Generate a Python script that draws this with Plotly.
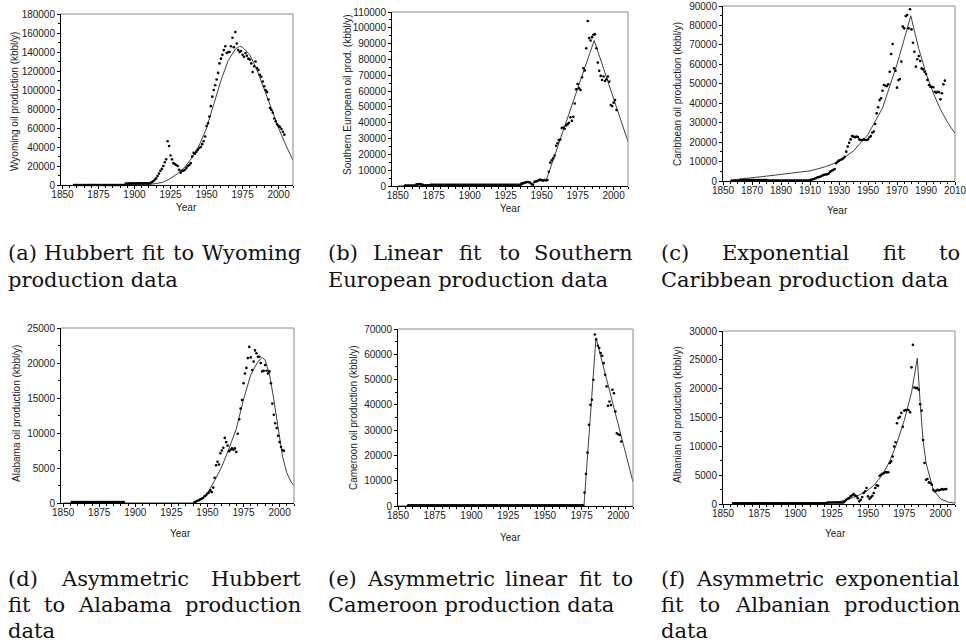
import plotly.graph_objects as go

W, H = 966, 643

# ---------------- data (kbbl/y) ----------------
# (a) Wyoming
wy_years = list(range(1858, 2005))
wy_vals = (
    [0, 0, 0, 0, 0, 0, 0, 0, 0, 0, 0, 0, 0, 0, 0, 0, 0, 0, 0, 0, 0, 0, 0, 0, 0, 0, 0, 0, 0, 0, 0, 0, 0, 0, 0, 0] +
    [1500, 1600, 1500, 1700, 1600, 1800, 1700, 1600, 1800, 1700, 1900, 1800, 1700, 1800, 1900, 1800, 1900] +
    [2000, 3000, 4000, 5500, 7000, 9500, 12000, 15000, 17000, 20000] +
    [24000, 27000, 46000, 41000, 31000, 27000, 23000, 22000, 21000, 20000] +
    [16000, 13000, 15000, 15000, 16000, 18000, 20000, 21000, 23000, 30000] +
    [34000, 33000, 35000, 37000, 39000, 40000, 43000, 46000, 51000, 62000] +
    [65000, 72000, 83000, 93000, 100000, 105000, 111000, 118000, 128000, 133000] +
    [137000, 142000, 146000, 139000, 140000, 140000, 146000, 155000, 145000, 161000] +
    [149000, 142000, 140000, 141000, 137000, 135000, 139000, 136000, 133000, 132000] +
    [128000, 119000, 125000, 130000, 123000, 121000, 116000, 114000, 109000, 104000] +
    [100000, 98000, 90000, 81000, 79000, 76000, 70000, 67000, 64000, 62000] +
    [61000, 59000, 56000, 53000])
wy_fit_years = [1858, 1900, 1910, 1915, 1920, 1925, 1930, 1935, 1940, 1945, 1950, 1955, 1960,
                1965, 1970, 1973, 1975, 1980, 1985, 1990, 1995, 2000, 2005, 2010]
wy_fit_vals = [0, 0, 500, 1500, 3000, 7000, 12000, 19000, 29000, 42000, 60000, 85000, 110000,
               131000, 143000, 146000, 145000, 137000, 121000, 101000, 80000, 60000, 42000, 26000]

# (b) Southern Europe
se_years = list(range(1855, 2003))
se_vals = ([300, 300, 300, 300, 300, 300, 300, 300] +
    [1000, 1100, 1200, 1000, 900] +
    [500, 500, 500, 500, 500] +
    [800, 800, 800, 800, 800, 800, 800, 800, 800, 800, 800, 800, 800, 800, 800, 800, 800, 800, 800, 800, 800,
     800, 800, 800, 800, 800, 800, 800, 800, 800, 800, 800, 800, 800, 800, 800, 800, 800, 800, 800, 800, 800,
     800, 800, 800, 800, 800, 800, 800, 800, 800, 800, 800, 800, 800, 800, 800, 800, 800, 800, 800, 800, 800] +
    [1500, 1800, 2000, 2300, 2500, 2400, 2200, 1200, 800, 2600] +
    [2900, 3200, 3600, 4000, 3600, 3400, 3800, 3500, 3800, 9000] +
    [14800, 16300, 17500, 19200, 25400, 27000, 29000, 29400, 36600, 37000] +
    [36200, 38300, 39100, 40000, 43400, 41200, 43800, 52200, 61100, 64500] +
    [61800, 60700, 68700, 74400, 73000, 87100, 104300, 93500, 92000, 94100] +
    [95600, 96000, 87100, 78000, 72800, 69600, 67000, 69200, 66400, 67500] +
    [69200, 66000, 51200, 50500, 52700, 54400, 48000])
se_fit_years = [1850, 1936, 1938, 1941, 1943, 1945, 1948, 1950, 1953, 1986.5, 2010]
se_fit_vals = [0, 300, 2000, 2400, 700, 2600, 3600, 3800, 3300, 92000, 28000]

# (c) Caribbean
ca_years = list(range(1856, 2004))
ca_vals = ([100, 100, 100, 100, 100, 100] +
    [500, 500, 500, 500, 500, 500, 500, 500, 500, 500, 500, 500, 500, 500, 500, 500, 500, 500, 500] +
    [200, 200, 200, 200, 200, 200, 200, 200, 200, 200, 200, 200, 200, 200, 200, 200, 200, 200, 200, 200,
     200, 200, 200, 200, 200, 200, 200, 200, 200] +
    [500, 700, 900, 1100, 1400, 1800, 2000, 2200, 2600, 3000] +
    [3200, 3400, 3500, 3900, 4800, 5300, 5600, 6200, 9100, 9900] +
    [10500, 10800, 11200, 11700, 12500, 15100, 17700, 19700, 21400, 23100] +
    [22800, 22500, 22800, 22600, 21400, 21100, 21100, 21400, 21100, 21100] +
    [21400, 22500, 23100, 24900, 25400, 29300, 34800, 37900, 41600, 42500] +
    [46400, 49400, 49000, 48800, 49700, 56200, 65300, 70400, 57900, 56700] +
    [48000, 51900, 52400, 61400, 79400, 78500, 84800, 85400, 78500, 88300] +
    [78000, 71100, 66500, 58800, 62600, 64300, 61700, 57900, 57400, 56200] +
    [55000, 52000, 49400, 48500, 48500, 48200, 45900, 45400, 45900, 45600] +
    [42000, 45100, 49700, 51600])
ca_fit_years = [1855, 1860, 1870, 1880, 1890, 1900, 1910, 1920, 1930, 1940, 1950, 1960, 1970, 1975,
                1979.5, 1985, 1990, 1995, 2000, 2005, 2010]
ca_fit_vals = [400, 900, 1700, 2500, 3400, 4300, 5200, 7200, 10000, 15500, 24000, 37500, 60000, 73000,
               85000, 68000, 55400, 45200, 36800, 30000, 24500]

# (d) Alabama
al_years = list(range(1856, 1893)) + list(range(1941, 2004))
al_vals = ([150, 150, 150, 150, 150, 150, 150, 150, 150, 150, 150, 150, 150, 150, 150, 150, 150, 150, 150,
            150, 150, 150, 150, 150, 150, 150, 150, 150, 150, 150, 150, 150, 150, 150, 150, 150, 150] +
    [100, 200, 330, 380, 530, 620, 720, 960, 1100, 1340] +
    [1500, 1800, 1580, 2200, 3600, 5400, 5900, 5500, 7100, 7500] +
    [7900, 9300, 8700, 8200, 7400, 7600, 7800, 7600, 7800, 7300] +
    [9900, 11950, 13500, 14700, 17100, 18500, 19300, 20700, 22300, 20800] +
    [19000, 20200, 21800, 21400, 20900, 20900, 20000, 18800, 18900, 19700] +
    [18900, 18500, 18800, 17100, 14200, 12600, 11400, 10700, 9600, 8700] +
    [8000, 7550, 7450])
al_fit_years = [1850, 1940, 1945, 1950, 1955, 1960, 1965, 1970, 1975, 1980, 1985, 1988, 1990, 1993,
                1996, 1999, 2002, 2005, 2008, 2010]
al_fit_vals = [0, 0, 400, 1400, 3200, 5200, 7800, 10600, 14800, 18300, 20200, 20800, 20400, 18400,
               14800, 10400, 6700, 4300, 3000, 2500]

# (e) Cameroon
cm_years = list(range(1857, 2003))
cm_vals = (
    [300, 300, 300, 300, 300, 300, 300, 300, 300, 300, 300, 300, 300, 300, 300, 300, 300, 300, 300, 300,
     300, 300, 300, 300, 300, 300, 300, 300, 300, 300, 300, 300, 300, 300, 300, 300, 300, 300, 300, 300,
     300, 300, 300, 300, 300, 300, 300, 300, 300, 300, 300, 300, 300, 300, 300, 300, 300, 300, 300, 300,
     300, 300, 300, 300, 300, 300, 300, 300, 300, 300, 300, 300, 300, 300, 300, 300, 300, 300, 300, 300,
     300, 300, 300, 300, 300, 300, 300, 300, 300, 300, 300, 300, 300, 300, 300, 300, 300, 300, 300, 300,
     300, 300, 300, 300, 300, 300, 300, 300, 300, 300, 300, 300, 300, 300, 300, 300, 300, 300, 300, 300] +
    [5300, 12700, 21100, 32100, 40000, 42000, 49900, 67800, 65800, 63400] +
    [62500, 60500, 59400, 56500, 51900, 47300, 39600, 41300, 39900, 46000] +
    [44600, 37400, 28800, 28400, 28100, 25500])
cm_fit_years = [1850, 1976.6, 1984.8, 2010]
cm_fit_vals = [0, 0, 66500, 9500]

# (f) Albania
ab_years = list(range(1857, 2005))
ab_vals = ([100, 100, 100, 100, 100, 100, 100, 100, 100, 100, 100, 100, 100, 100, 100, 100, 100, 100, 100,
            100, 100, 100, 100, 100, 100, 100, 100, 100, 100, 100, 100, 100, 100, 100, 100, 100, 100, 100,
            100, 100, 100, 100, 100, 100, 100, 100, 100, 100, 100, 100, 100, 100, 100, 100, 100, 100, 100,
            100, 100, 100, 100, 100, 100, 100, 100] +
    [250, 250, 250, 250, 250, 250, 250, 250, 250, 250, 250, 250] +
    [460, 750, 900, 1040, 1330, 1500, 1730, 1500, 1330, 1000] +
    [460, 750, 1210, 1900, 2190, 2770, 1330, 920, 1150, 1440] +
    [1900, 2770, 3230, 3170, 4900, 5080, 5250, 5370, 5540, 5480] +
    [5500, 7100, 7390, 8250, 9980, 10700, 14000, 14900, 15100, 15800] +
    [13400, 16200, 16300, 16300, 16300, 15900, 23700, 27600, 20200, 20100] +
    [20100, 19800, 17300, 16200, 11100, 7100, 4200, 4330, 3750, 3640] +
    [3350, 2480, 2190, 2310, 2480, 2370, 2480, 2600, 2500, 2550] +
    [2600])
ab_fit_years = [1857, 1920, 1930, 1935, 1940, 1945, 1950, 1955, 1960, 1965, 1970, 1975, 1980, 1984,
                1986, 1988, 1990, 1995, 2000, 2005, 2010]
ab_fit_vals = [0, 100, 400, 700, 1150, 1700, 2400, 3500, 5100, 7400, 10600, 14500, 19300, 25300,
               17500, 11000, 7100, 2500, 900, 350, 150]

y_titles = ["Wyoming oil production (kbbl/y)", "Southern European oil prod. (kbbl/y)",
            "Caribbean oil production (kbbl/y)", "Alabama oil production (kbbl/y)",
            "Cameroon oil production (kbbl/y)", "Albanian oil production (kbbl/y)"]
x_title = "Year"

captions = [
    ["(a) Hubbert fit to Wyoming", "production data"],
    ["(b) Linear fit to Southern", "European production data"],
    ["(c) Exponential fit to", "Caribbean production data"],
    ["(d) Asymmetric Hubbert", "fit to Alabama production", "data"],
    ["(e) Asymmetric linear fit to", "Cameroon production data"],
    ["(f) Asymmetric exponential", "fit to Albanian production", "data"],
]

series = [
    (wy_years, wy_vals, wy_fit_years, wy_fit_vals),
    (se_years, se_vals, se_fit_years, se_fit_vals),
    (ca_years, ca_vals, ca_fit_years, ca_fit_vals),
    (al_years, al_vals, al_fit_years, al_fit_vals),
    (cm_years, cm_vals, cm_fit_years, cm_fit_vals),
    (ab_years, ab_vals, ab_fit_years, ab_fit_vals),
]

# ---------------- layout (pixels) ----------------
panels = [
    dict(box=(61, 293, 14, 185), xr=[1849, 2010], xdt=25, ymax=180000, ydt=20000,
         ytxy=(15, 102), yearxy=(186, 207)),
    dict(box=(392, 628, 12, 186), xr=[1846, 2010], xdt=25, ymax=110000, ydt=10000,
         ytxy=(348, 95), yearxy=(510, 209)),
    dict(box=(723, 955, 6, 181), xr=[1850, 2010], xdt=20, ymax=90000, ydt=10000,
         ytxy=(677, 94), yearxy=(837, 210)),
    dict(box=(61, 294, 328, 503), xr=[1848.5, 2010], xdt=25, ymax=25000, ydt=5000,
         ytxy=(16, 414), yearxy=(180, 533)),
    dict(box=(398, 633, 329, 506), xr=[1850, 2010], xdt=25, ymax=70000, ydt=10000,
         ytxy=(353, 418), yearxy=(510, 537)),
    dict(box=(723, 955, 331, 504), xr=[1850, 2010], xdt=25, ymax=30000, ydt=5000,
         ytxy=(678, 415), yearxy=(835, 533)),
]

cap_cols = [(7, 302), (327, 634), (660, 961)]
cap_base_top = [260, 287]
cap_base_bot = [586, 612, 638]

TICKFONT = dict(family="Liberation Sans, Arial, sans-serif", size=10, color="#1a1a1a")
CAPFONT_SIZE = 21
CAPFONT = dict(family="DejaVu Serif, serif", size=CAPFONT_SIZE, color="#111111")

fig = go.Figure()
layout = dict(width=W, height=H, margin=dict(l=0, r=0, t=0, b=0, pad=0, autoexpand=False),
              autosize=False, paper_bgcolor="white", plot_bgcolor="white", showlegend=False)
shapes = []
annotations = []


def px2x(px):
    return px / W


def px2y(py):
    return 1 - py / H


for i, (p, (yrs, vals, fyrs, fvals)) in enumerate(zip(panels, series)):
    s = "" if i == 0 else str(i + 1)
    x0, x1, yt, yb = p["box"]
    layout["xaxis" + s] = dict(
        domain=[px2x(x0), px2x(x1)], range=p["xr"], anchor="y" + s, automargin=False,
        tick0=1850, dtick=p["xdt"], ticks="outside", ticklen=3, tickcolor="black",
        ticklabelstandoff=-3, ticklabeloverflow="allow",
        showline=True, linecolor="black", linewidth=1, showgrid=False, zeroline=False,
        tickfont=TICKFONT, tickformat="d",
        minor=dict(ticks="outside", ticklen=2, dtick=5, tick0=1850, tickcolor="black", showgrid=False))
    layout["yaxis" + s] = dict(
        domain=[px2y(yb), px2y(yt)], range=[0, p["ymax"]], anchor="x" + s, automargin=False,
        tick0=0, dtick=p["ydt"], ticks="outside", ticklen=3, tickcolor="black",
        ticklabeloverflow="allow",
        showline=True, linecolor="black", linewidth=1, showgrid=False, zeroline=False,
        tickfont=TICKFONT, tickformat="d",
        minor=dict(ticks="outside", ticklen=2, dtick=p["ydt"] / 2, tickcolor="black", showgrid=False))
    # grey frame on top / right
    shapes.append(dict(type="line", xref="x" + s + " domain", yref="y" + s + " domain",
                       x0=0, x1=1, y0=1, y1=1, line=dict(color="#8a8a8a", width=1)))
    shapes.append(dict(type="line", xref="x" + s + " domain", yref="y" + s + " domain",
                       x0=1, x1=1, y0=0, y1=1, line=dict(color="#8a8a8a", width=1)))

    fig.add_trace(go.Scatter(x=fyrs, y=fvals, mode="lines", xaxis="x" + s, yaxis="y" + s,
                             line=dict(color="#404040", width=1), cliponaxis=False,
                             hoverinfo="skip"))
    fig.add_trace(go.Scatter(x=yrs, y=vals, mode="markers", xaxis="x" + s, yaxis="y" + s,
                             marker=dict(color="black", size=2.6, line=dict(width=0)),
                             cliponaxis=False))

    tx, ty = p["ytxy"]
    annotations.append(dict(text=y_titles[i], x=px2x(tx), y=px2y(ty), xref="paper", yref="paper",
                            showarrow=False, textangle=-90, xanchor="center", yanchor="middle",
                            font=TICKFONT))
    yx, yy = p["yearxy"]
    annotations.append(dict(text=x_title, x=px2x(yx), y=px2y(yy), xref="paper", yref="paper",
                            showarrow=False, xanchor="center", yanchor="middle", font=TICKFONT))

# approximate DejaVu Serif advance widths (em) used to spread justified caption lines
CW = {' ': 0.318, '(': 0.390, ')': 0.390, 'a': 0.596, 'b': 0.640, 'c': 0.560, 'd': 0.640,
      'e': 0.592, 'f': 0.370, 'g': 0.640, 'h': 0.644, 'i': 0.320, 'l': 0.320, 'm': 0.948,
      'n': 0.644, 'o': 0.602, 'p': 0.640, 'r': 0.478, 's': 0.513, 't': 0.402, 'u': 0.644,
      'x': 0.569, 'y': 0.565, 'A': 0.722, 'C': 0.733, 'E': 0.726, 'H': 0.872, 'L': 0.662,
      'S': 0.648, 'W': 1.031}


def wordw(w):
    return sum(CW.get(c, 0.6) for c in w) * CAPFONT_SIZE


def add_line(text, xl, xr, base, justify):
    yc = px2y(base - 0.35 * CAPFONT_SIZE)
    if not justify:
        annotations.append(dict(text=text, x=px2x(xl), y=yc, xref="paper", yref="paper",
                                showarrow=False, xanchor="left", yanchor="middle",
                                font=CAPFONT, borderpad=0))
        return
    words = text.split()
    ws = [wordw(w) for w in words]
    gap = (xr - xl - sum(ws)) / (len(words) - 1)
    cur = xl
    for k, (w, ww) in enumerate(zip(words, ws)):
        if k == 0:
            xa, xpos = "left", xl
        elif k == len(words) - 1:
            xa, xpos = "right", xr
        else:
            xa, xpos = "center", cur + ww / 2
        annotations.append(dict(text=w, x=px2x(xpos), y=yc, xref="paper", yref="paper",
                                showarrow=False, xanchor=xa, yanchor="middle",
                                font=CAPFONT, borderpad=0))
        cur += ww + gap


for i, lines in enumerate(captions):
    xl, xr = cap_cols[i % 3]
    bases = cap_base_top if i < 3 else cap_base_bot
    for j, ln in enumerate(lines):
        add_line(ln, xl, xr, bases[j], justify=(j < len(lines) - 1))

layout["shapes"] = shapes
layout["annotations"] = annotations
fig.update_layout(**layout)
fig.write_html("out.html", config={"displayModeBar": False},
               post_script="document.body.style.margin='0';document.body.style.overflow='hidden';")
